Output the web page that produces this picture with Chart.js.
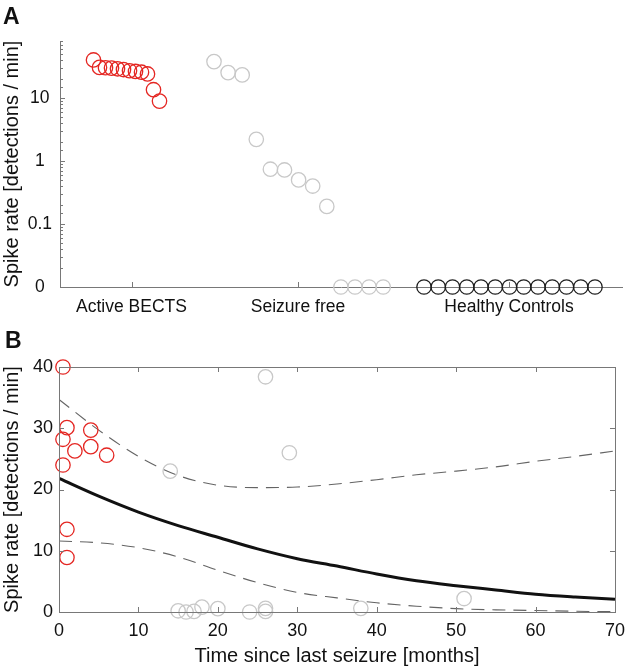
<!DOCTYPE html>
<html>
<head>
<meta charset="utf-8">
<script src="https://cdn.jsdelivr.net/npm/chart.js@4.4.1/dist/chart.umd.min.js"></script>
<style>
  body { margin: 0; background: #fff; }
  #page { position: relative; width: 633px; height: 670px; font-family: 'Liberation Sans', Arial, sans-serif; }
  .panel { position: absolute; left: 0; width: 633px; }
  #wrapA { top: 0; height: 320px; }
  #wrapB { top: 320px; height: 350px; }
  .letter { position: absolute; font-weight: bold; font-size: 23px; color: #111; }
</style>
</head>
<body>
<div id="page">
  <div class="panel" id="wrapA"><canvas id="chartA"></canvas></div>
  <div class="panel" id="wrapB"><canvas id="chartB"></canvas></div>
  <div class="letter" style="left:3px; top:3px;">A</div>
  <div class="letter" style="left:5px; top:327px;">B</div>
</div>
<script>
// Panel A: spike rate per group (0 means no detections)
const groupNames = ['Active BECTS', 'Seizure free', 'Healthy Controls'];
const activeRates = [40, 30.5, 30.1, 29.7, 29, 28.2, 27, 26.3, 25.6, 24, 13.5, 8.9];
const seizureFreeRates = [37.7, 25.2, 23.2, 2.2, 0.74, 0.72, 0.5, 0.4, 0.19, 0, 0, 0, 0];
const controlRates = [0, 0, 0, 0, 0, 0, 0, 0, 0, 0, 0, 0, 0];
const logTickLabels = { 0.01: '0', 0.1: '0.1', 1: '1', 10: '10' };

// Panel B: spike rate vs time since last seizure
const activeMonths = [0.5, 1, 0.5, 4, 2, 4, 6, 0.5, 1, 1];
const activeRatesB = [40, 30.1, 28.2, 29.7, 26.3, 27, 25.6, 24, 13.5, 8.9];
const freeMonths = [14, 26, 29, 15, 16, 17, 18, 20, 24, 26, 26, 38, 51];
const freeRatesB = [23, 38.4, 26, 0.2, 0, 0.1, 0.8, 0.55, 0, 0.6, 0.1, 0.6, 2.2];
const fitMonths = [0, 5, 10, 15, 20, 25, 30, 35, 40, 45, 50, 55, 60, 65, 70];
const fitMean = [21.8, 18.9, 16.3, 14.1, 12.2, 10.3, 8.7, 7.5, 6.2, 5.1, 4.3, 3.6, 2.9, 2.45, 2.1];
const fitUpper = [34.7, 29.7, 25.4, 22.3, 20.7, 20.3, 20.4, 20.9, 21.6, 22.4, 23.0, 23.7, 24.6, 25.4, 26.3];
const fitLower = [11.6, 11.3, 10.5, 9.0, 6.8, 4.8, 3.2, 2.3, 1.5, 0.95, 0.55, 0.35, 0.25, 0.12, 0.05];

const RED = 'rgb(228,38,34)';
const GREY = 'rgb(200,200,200)';
const DARK = 'rgb(30,30,30)';
const AXIS = 'rgb(120,120,120)';
const LOG_FLOOR = 0.01;

Chart.defaults.font.family = "'Liberation Sans', Arial, sans-serif";
Chart.defaults.color = '#111';
Chart.defaults.animation = false;

// beeswarm-like layout for panel A (x in 10px units of the axis)
const groupTicks = [7.15, 23.8, 44.9];
const groupStart = [3.35, 15.4, 36.4];
const groupStep = [0.6, 1.41, 1.425];

function groupPoints(values, g) {
    return values.map((v, i) => ({ x: groupStart[g] + i * groupStep[g], y: v === 0 ? LOG_FLOOR : v }));
}

function pairs(xs, ys) {
    return xs.map((x, i) => ({ x: x, y: ys[i] }));
}

// ticks pointing into the plot, like the original figure
const inwardTicks = {
    id: 'inwardTicks',
    afterDraw(chart, args, opts) {
        const { ctx, chartArea: a } = chart;
        const xs = chart.scales.x, ys = chart.scales.y;
        ctx.save();
        ctx.strokeStyle = AXIS;
        ctx.lineWidth = 1;
        if (opts.box) {
            ctx.strokeRect(Math.round(a.left) + 0.5, Math.round(a.top) + 0.5,
                Math.round(a.right - a.left), Math.round(a.bottom - a.top));
        }
        ctx.beginPath();
        xs.ticks.forEach(t => {
            const px = Math.round(xs.getPixelForValue(t.value)) + 0.5;
            ctx.moveTo(px, a.bottom); ctx.lineTo(px, a.bottom - 5);
            if (opts.box) { ctx.moveTo(px, a.top); ctx.lineTo(px, a.top + 5); }
        });
        ys.ticks.forEach(t => {
            const py = Math.round(ys.getPixelForValue(t.value)) + 0.5;
            let len = 5;
            if (opts.log) {
                const e = Math.log10(t.value);
                len = Math.abs(e - Math.round(e)) < 1e-6 ? 5 : 3;
            }
            ctx.moveTo(a.left, py); ctx.lineTo(a.left + len, py);
            if (opts.box) { ctx.moveTo(a.right, py); ctx.lineTo(a.right - len, py); }
        });
        ctx.stroke();
        ctx.restore();
    }
};

function circles(data, color) {
    return {
        data: data,
        borderColor: color,
        backgroundColor: 'rgba(0,0,0,0)',
        borderWidth: 1.3,
        pointRadius: 7.2,
        pointHoverRadius: 7.2,
        clip: false
    };
}

new Chart(document.getElementById('chartA'), {
    type: 'scatter',
    data: {
        datasets: [
            circles(groupPoints(activeRates, 0), RED),
            circles(groupPoints(seizureFreeRates, 1), GREY),
            circles(groupPoints(controlRates, 2), DARK)
        ]
    },
    options: {
        responsive: true,
        maintainAspectRatio: false,
        layout: { padding: { top: 41, right: 11, left: 0, bottom: 0 } },
        plugins: { legend: { display: false }, tooltip: { enabled: false }, inwardTicks: { box: false, log: true } },
        scales: {
            x: {
                type: 'linear',
                min: 0,
                max: 56.2,
                afterBuildTicks: scale => { scale.ticks = groupTicks.map(v => ({ value: v })); },
                afterFit: scale => { scale.height = 33; },
                grid: { display: false, drawTicks: false },
                border: { color: AXIS, width: 1 },
                ticks: {
                    autoSkip: false,
                    maxRotation: 0,
                    padding: 10,
                    color: '#111',
                    font: { size: 17.5 },
                    callback: (v, i) => groupNames[i]
                }
            },
            y: {
                type: 'logarithmic',
                min: LOG_FLOOR,
                max: 80,
                afterFit: scale => { scale.width = 60; },
                grid: { display: false, drawTicks: false },
                border: { color: AXIS, width: 1 },
                title: { display: true, text: 'Spike rate [detections / min]', font: { size: 20 }, color: '#111', padding: 0 },
                ticks: {
                    autoSkip: false,
                    crossAlign: 'center',
                    padding: 8,
                    color: '#111',
                    font: { size: 17.5 },
                    callback: v => logTickLabels[v] || ''
                }
            }
        }
    },
    plugins: [inwardTicks]
});

new Chart(document.getElementById('chartB'), {
    type: 'scatter',
    data: {
        datasets: [
            circles(pairs(activeMonths, activeRatesB), RED),
            circles(pairs(freeMonths, freeRatesB), GREY),
            {
                data: pairs(fitMonths, fitMean), showLine: true, borderColor: '#111', borderWidth: 3,
                pointRadius: 0, pointHoverRadius: 0, cubicInterpolationMode: 'monotone'
            },
            {
                data: pairs(fitMonths, fitUpper), showLine: true, borderColor: 'rgb(100,100,100)', borderWidth: 1.1,
                borderDash: [13, 8], pointRadius: 0, pointHoverRadius: 0, cubicInterpolationMode: 'monotone'
            },
            {
                data: pairs(fitMonths, fitLower), showLine: true, borderColor: 'rgb(100,100,100)', borderWidth: 1.1,
                borderDash: [13, 8], pointRadius: 0, pointHoverRadius: 0, cubicInterpolationMode: 'monotone'
            }
        ]
    },
    options: {
        responsive: true,
        maintainAspectRatio: false,
        layout: { padding: { top: 47, right: 13, left: 0, bottom: 0 } },
        plugins: { legend: { display: false }, tooltip: { enabled: false }, inwardTicks: { box: true, log: false } },
        scales: {
            x: {
                type: 'linear',
                min: 0,
                max: 70,
                afterFit: scale => { scale.height = 58; },
                grid: { display: false, drawTicks: false },
                border: { color: AXIS, width: 1 },
                title: { display: true, text: 'Time since last seizure [months]', font: { size: 20 }, color: '#111', padding: { top: 0, bottom: 2 } },
                ticks: { stepSize: 10, padding: 8, color: '#111', font: { size: 18 }, maxRotation: 0 }
            },
            y: {
                type: 'linear',
                min: 0,
                max: 40,
                afterFit: scale => { scale.width = 59; },
                grid: { display: false, drawTicks: false },
                border: { color: AXIS, width: 1 },
                title: { display: true, text: 'Spike rate [detections / min]', font: { size: 20 }, color: '#111', padding: 0 },
                ticks: { stepSize: 10, padding: 6, color: '#111', font: { size: 18 } }
            }
        }
    },
    plugins: [inwardTicks]
});
</script>
</body>
</html>
